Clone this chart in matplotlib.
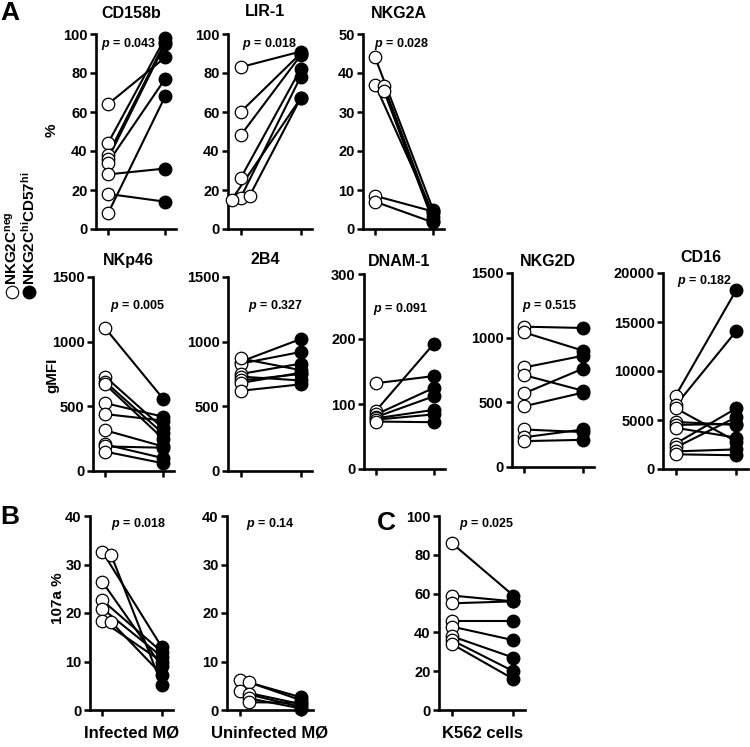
import matplotlib
matplotlib.use("Agg")
import matplotlib.pyplot as plt
from matplotlib.lines import Line2D

plt.rcParams['font.family'] = ['Liberation Sans', 'DejaVu Sans']
plt.rcParams['font.weight'] = 'bold'
plt.rcParams['mathtext.fontset'] = 'custom'
plt.rcParams['mathtext.it'] = 'Liberation Sans:italic:bold'
plt.rcParams['mathtext.bf'] = 'Liberation Sans:bold'
plt.rcParams['mathtext.rm'] = 'Liberation Sans:bold'

# --- datos (NKG2C neg -> NKG2C hi CD57 hi, emparejados)
cd158b_neg = [64, 44, 38, 36, 34, 28, 18, 8]
cd158b_hi = [88, 98, 96, 95, 77, 31, 14, 68]

lir1_neg = [83, 60, 48, 26, 16, 17, 15]
lir1_hi = [91, 90, 89, 82, 78, 67, 67]

nkg2a_neg = [44, 37, 36.7, 35.5, 8.5, 7]
nkg2a_hi = [5, 4, 3, 2, 4.5, 1.7]

nkp46_neg = [1105, 730, 690, 670, 525, 440, 315, 205, 190, 150]
nkp46_hi = [560, 330, 290, 250, 420, 390, 190, 100, 180, 60]

b24_neg = [845, 830, 870, 750, 730, 700, 680, 620]
b24_hi = [1020, 920, 780, 830, 700, 750, 760, 670]

dnam1_neg = [132, 90, 84, 80, 78, 76, 73]
dnam1_hi = [143, 193, 125, 112, 91, 84, 72]

nkg2d_neg = [1085, 1040, 770, 710, 570, 470, 290, 230, 200]
nkg2d_hi = [1075, 900, 860, 590, 760, 575, 270, 290, 210]

cd16_neg = [7500, 6500, 6200, 4800, 4500, 4200, 2600, 2200, 1800, 1500]
cd16_hi = [18300, 14100, 2800, 4500, 4600, 3200, 6200, 5300, 2000, 1400]

inf_neg = [32.6, 31.9, 26.4, 22.6, 20.9, 18.3, 18.1]
inf_hi = [13, 5.2, 9, 12, 11, 10, 7.3]

uninf_neg = [6.2, 5.7, 3.9, 3.2, 2.4, 1.6]
uninf_hi = [2.6, 2.0, 1.2, 0.6, 0.3, 1.5]

k562_neg = [86, 59, 55, 46, 43, 38, 36, 34]
k562_hi = [59, 56, 56, 46, 36, 27, 20, 16]

W, H = 750, 747
fig = plt.figure(figsize=(W / 100, H / 100), dpi=100)


def dodge(vals, top):
    # separa horizontalmente los circulos que se superponen
    xs = []
    placed = []
    for v in vals:
        k = len([p for p in placed if abs(p - v) < 0.03 * top])
        off = 0 if k == 0 else (0.15 if k % 2 == 1 else -0.15)
        xs.append(off)
        placed.append(v)
    return xs


def panel(l, r, t, b, neg, hi, top, step, title=None, title_y=None, ptxt=None, px=0.5, py=0.97,
          xlabel=None, jitter=False):
    ax = fig.add_axes([l / W, 1 - b / H, (r - l) / W, (b - t) / H])
    offs = dodge(neg, top) if jitter else [0] * len(neg)
    for v0, v1, o in zip(neg, hi, offs):
        ax.plot([o, 1], [v0, v1], color='black', lw=1.5, zorder=2, clip_on=False)
    ax.plot(offs, neg, 'o', ms=9, mfc='white', mec='black', mew=0.9, zorder=3, clip_on=False)
    ax.plot([1] * len(hi), hi, 'o', ms=9, mfc='black', mec='black', zorder=4, clip_on=False)
    ax.set_xlim(-0.21, 1.19)
    ax.set_ylim(0, top)
    ax.set_yticks(range(0, int(top) + 1, step))
    ax.set_xticks([0, 1])
    ax.set_xticklabels([])
    ax.tick_params(axis='both', width=1.8, length=4, labelsize=10.5, pad=2)
    for s in ['top', 'right']:
        ax.spines[s].set_visible(False)
    for s in ['left', 'bottom']:
        ax.spines[s].set_linewidth(1.9)
    if title:
        fig.text((l + r) / 2 / W - 5 / W, 1 - title_y / H, title, ha='center', va='center',
                 fontsize=11.5, fontweight='bold')
    if ptxt:
        ax.text(px, py, r'$p$ = ' + ptxt, transform=ax.transAxes, ha='center', va='top',
                fontsize=9, fontweight='bold', zorder=1)
    if xlabel:
        fig.text((l + r) / 2 / W, 1 - 733 / H, xlabel, ha='center', va='center',
                 fontsize=12, fontweight='bold')
    return ax


# fila 1
panel(96, 176, 34, 229, cd158b_neg, cd158b_hi, 100, 20, 'CD158b', 13, '0.043', 0.41, 0.99)
panel(228, 312, 34, 229, lir1_neg, lir1_hi, 100, 20, 'LIR-1', 12, '0.018', 0.5, 0.99, jitter=True)
panel(363, 444, 34, 229, nkg2a_neg, nkg2a_hi, 50, 10, 'NKG2A', 13, '0.028', 0.47, 0.99, jitter=True)

# fila 2
panel(93, 174, 277, 471, nkp46_neg, nkp46_hi, 1500, 500, 'NKp46', 260, '0.005', 0.55, 0.89)
panel(228, 312, 277, 471, b24_neg, b24_hi, 1500, 500, '2B4', 260, '0.327', 0.56, 0.89)
panel(364, 445, 274, 469, dnam1_neg, dnam1_hi, 300, 100, 'DNAM-1', 261, '0.091', 0.45, 0.86)
panel(512, 594, 273, 467, nkg2d_neg, nkg2d_hi, 1500, 500, 'NKG2D', 261, '0.515', 0.46, 0.87)
panel(663, 748, 273, 469, cd16_neg, cd16_hi, 20000, 5000, 'CD16', 257, '0.182', 0.49, 1.0)

# fila 3
panel(90, 173, 516, 710, inf_neg, inf_hi, 40, 10, None, None, '0.018', 0.58, 1.0, 'Infected MØ', True)
panel(227, 313, 516, 710, uninf_neg, uninf_hi, 40, 10, None, None, '0.14', 0.5, 1.0, 'Uninfected MØ', True)
panel(439, 525, 516, 710, k562_neg, k562_hi, 100, 20, None, None, '0.025', 0.55, 1.0, 'K562 cells')

# etiquetas de eje y
fig.text(52 / W, 1 - 130 / H, '%', rotation=90, ha='center', va='center', fontsize=11, fontweight='bold')
fig.text(52 / W, 1 - 375 / H, 'gMFI', rotation=90, ha='center', va='center', fontsize=11, fontweight='bold')
fig.text(58 / W, 1 - 598 / H, '107a %', rotation=90, ha='center', va='center', fontsize=11, fontweight='bold')

# letras de panel
fig.text(0 / W, 1 - 1 / H, 'A', ha='left', va='top', fontsize=19, fontweight='bold')
fig.text(0 / W, 1 - 505 / H, 'B', ha='left', va='top', fontsize=19, fontweight='bold')
fig.text(377 / W, 1 - 511 / H, 'C', ha='left', va='top', fontsize=19, fontweight='bold')

# leyenda vertical
fig.add_artist(Line2D([12 / W], [1 - 292 / H], marker='o', ms=9, mfc='white', mec='black', mew=0.8,
                      transform=fig.transFigure))
fig.add_artist(Line2D([29 / W], [1 - 292 / H], marker='o', ms=9, mfc='black', mec='black',
                      transform=fig.transFigure))
fig.text(12 / W, 1 - 285 / H, 'NKG2C$^{\\mathbf{neg}}$', rotation=90, ha='center', va='bottom',
         fontsize=11, fontweight='bold')
fig.text(29 / W, 1 - 285 / H, 'NKG2C$^{\\mathbf{hi}}$CD57$^{\\mathbf{hi}}$', rotation=90, ha='center',
         va='bottom', fontsize=11, fontweight='bold')

fig.savefig('out.png', dpi=100)
